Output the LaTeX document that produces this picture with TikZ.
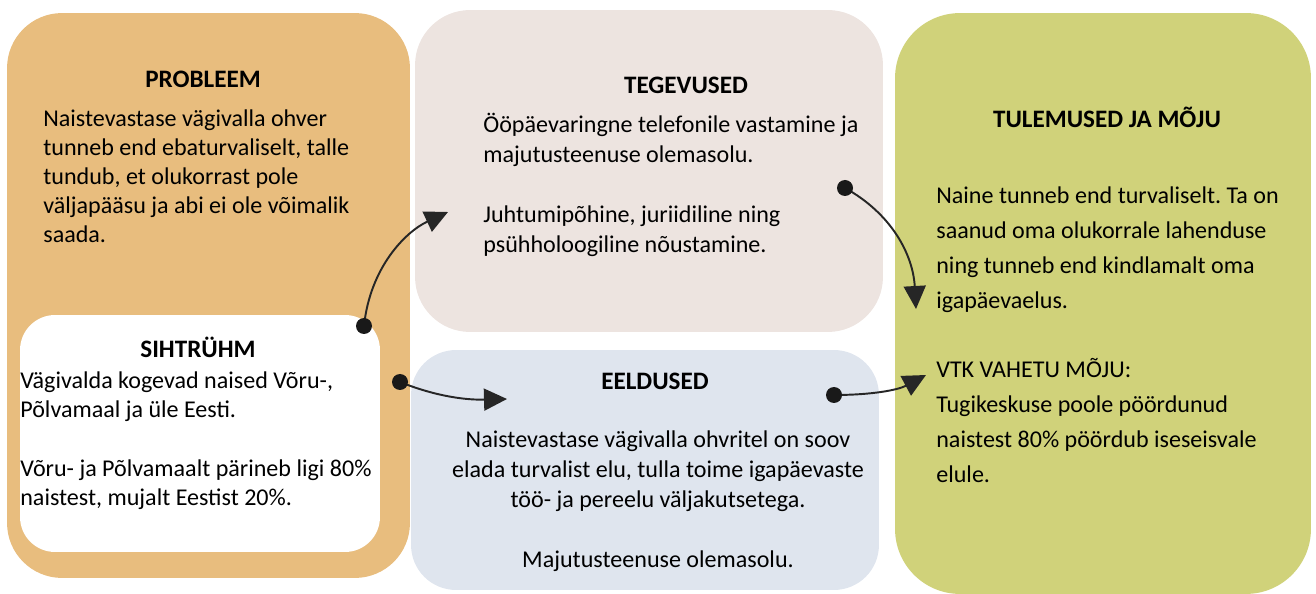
\documentclass[tikz,border=0pt]{standalone}
\usepackage{fontspec}
\setmainfont{Carlito}
\usetikzlibrary{arrows.meta}
\definecolor{probcol}{HTML}{E8BD7E}
\definecolor{tegcol}{HTML}{EDE4E0}
\definecolor{eelcol}{HTML}{DFE5EE}
\definecolor{tulcol}{HTML}{D0D27A}
\frenchspacing
\begin{document}
\begin{tikzpicture}[x=0.02cm,y=-0.02cm,
    box/.style={inner sep=0, draw=none},
    head/.style={font=\fontsize{14.3}{17}\selectfont\bfseries, inner sep=0, anchor=base},
    body/.style={font=\fontsize{13.7}{16.6}\selectfont, inner sep=0, align=left, anchor=north west},
    dot/.style={fill=black!90},
    arr/.style={line width=1.1pt, black!85, -{Triangle[length=0.46cm,width=0.44cm]}}]
    \useasboundingbox (0,0) rectangle (1316,594);
    % boxes
    \node (probleem) [box, fill=probcol, rounded corners=1.1cm, minimum width=8.06cm, minimum height=11.3cm] at (208.5,295.5) {};
    \node (siht) [box, fill=white, rounded corners=0.7cm, minimum width=7.2cm, minimum height=4.74cm] at (200,433.5) {};
    \node (tegevused) [box, fill=tegcol, rounded corners=1.1cm, minimum width=9.36cm, minimum height=6.44cm] at (649,171) {};
    \node (eeldused) [box, fill=eelcol, rounded corners=0.9cm, minimum width=9.36cm, minimum height=4.8cm] at (645,470) {};
    \node (tulemused) [box, fill=tulcol, rounded corners=1.3cm, minimum width=8.32cm, minimum height=11.62cm] at (1103,303.5) {};
    % texts
    \node (probhead) [head] at (203,88) {PROBLEEM};
    \node (probtext) [body] at (43,105.5) {\strut Naistevastase vägivalla ohver\\tunneb end ebaturvaliselt, talle\\tundub, et olukorrast pole\\väljapääsu ja abi ei ole võimalik\\saada.};
    \node (sihthead) [head] at (198,358) {SIHTRÜHM};
    \node (sihttext) [body] at (20,368) {\strut Vägivalda kogevad naised Võru-,\\Põlvamaal ja üle Eesti.\\[16.6pt]Võru- ja Põlvamaalt pärineb ligi 80\%\\naistest, mujalt Eestist 20\%.};
    \node (teghead) [head] at (686,94) {TEGEVUSED};
    \node (tegtext) [body, font=\fontsize{13.7}{17}\selectfont] at (483,111.5) {\strut Ööpäevaringne telefonile vastamine ja\\majutusteenuse olemasolu.\\[17pt]Juhtumipõhine, juriidiline ning\\psühholoogiline nõustamine.};
    \node (eelhead) [head] at (655,390) {EELDUSED};
    \node (eeltext) [body, font=\fontsize{13.7}{17}\selectfont, align=center, anchor=north] at (658,426.5) {\strut Naistevastase vägivalla ohvritel on soov\\elada turvalist elu, tulla toime igapäevaste\\töö- ja pereelu väljakutsetega.\\[17pt]Majutusteenuse olemasolu.};
    \node (tulhead) [head] at (1107,128) {TULEMUSED JA MÕJU};
    \node (tultext) [body, font=\fontsize{13.7}{19.8}\selectfont] at (936,179) {\strut Naine tunneb end turvaliselt. Ta on\\saanud oma olukorrale lahenduse\\ning tunneb end kindlamalt oma\\igapäevaelus.\\[19.8pt]VTK VAHETU MÕJU:\\Tugikeskuse poole pöördunud\\naistest 80\% pöördub iseseisvale\\elule.};
    % connectors
    \coordinate (s1) at (364,326);
    \coordinate (t1) at (448,212);
    \coordinate (s2) at (400,382);
    \coordinate (t2) at (507,399);
    \coordinate (s3) at (845,188);
    \coordinate (t3) at (916,309);
    \coordinate (s4) at (834,395);
    \coordinate (t4) at (926,375);
    \draw[arr] (s1) .. controls (370,268) and (405,232) .. (t1);
    \draw[arr] (s2) .. controls (440,398) and (470,400) .. (t2);
    \draw[arr] (s3) .. controls (892,214) and (913,255) .. (t3);
    \draw[arr] (s4) .. controls (872,395) and (898,390) .. (t4);
    \foreach \p in {s1,s2,s3,s4}
        \fill[dot] (\p) circle (0.16cm);
\end{tikzpicture}
\end{document}
